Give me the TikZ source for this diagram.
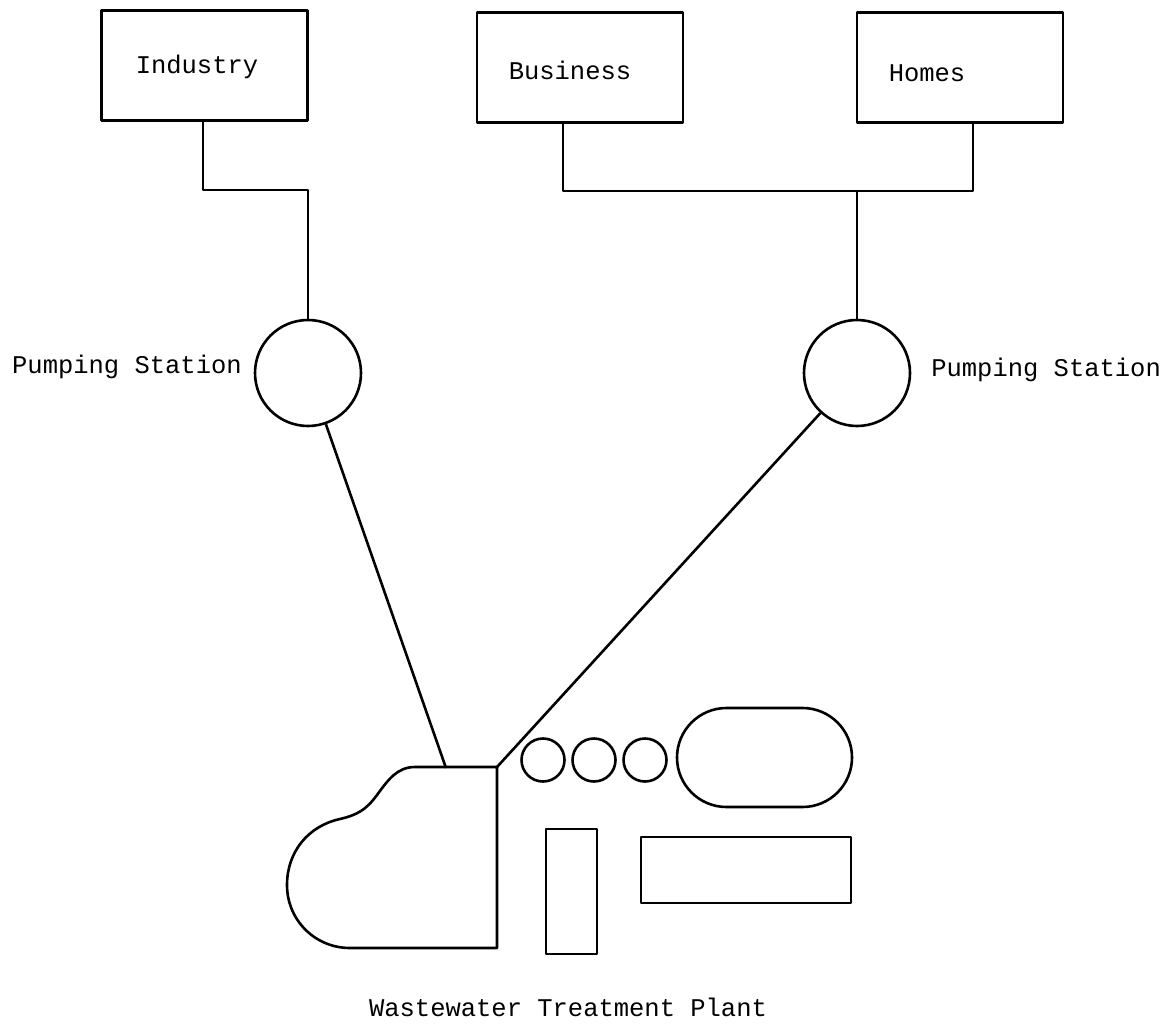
\documentclass[tikz,border=0pt]{standalone}
\usepackage{fontspec}
\setmainfont{Liberation Mono}
\usetikzlibrary{calc,shapes.misc}
\begin{document}
\begin{tikzpicture}[x=1pt,y=-1pt,
  line width=2.6pt, line join=round,
  srcbox/.style={draw, rectangle, minimum width=206pt, minimum height=110pt, inner sep=0pt},
  pump/.style={draw, circle, minimum size=106pt, inner sep=0pt},
  lbl/.style={font=\fontsize{25.5}{28}\selectfont, inner sep=0pt},
  tank/.style={draw, circle, minimum size=43pt, inner sep=0pt}]
\useasboundingbox (0,0) rectangle (1172,1024);
% source boxes
\node[srcbox] (ind) at (204.5,65.5) {};
\node[srcbox] (bus) at (580,67.5) {};
\node[srcbox] (hom) at (960,67.5) {};
\node[lbl] (indt) at (197,67) {Industry};
\node[lbl] (bust) at (570,70) {Business};
\node[lbl] (homt) at (927,73) {Homes};
% pumping stations
\node[pump] (ps1) at (308,373) {};
\node[pump] (ps2) at (857,373) {};
\node[lbl, anchor=east] (ps1t) at (243,367) {Pumping Station};
\node[lbl, anchor=west] (ps2t) at (930,370) {Pumping Station};
% connectors from sources
\coordinate (j1) at (203,190);
\coordinate (j2) at (857,191);
\draw ($(ind.south)+(-1.5,0)$) -- (j1) -| (ps1.north);
\draw ($(bus.south)+(-17,0)$) |- (j2) -| ($(hom.south)+(13,0)$);
\draw (ps2.north) -- (j2);
% plant
\coordinate (pin1) at (446,768);
\coordinate (pin2) at (497,767);
\draw (pin2) -- (415,767)
  .. controls (397,767) and (388,780) .. (377,795)
  .. controls (366,810) and (357,815) .. (340,819)
  .. controls (308,826) and (287,852) .. (287,885)
  .. controls (287,920) and (315,948) .. (350,948)
  -- (497,948) -- cycle;
\draw (ps1) -- (pin1);
\draw (ps2) -- (pin2);
% other units
\node[tank] (t1) at (543,760) {};
\node[tank] (t2) at (594,760) {};
\node[tank] (t3) at (645,760) {};
\node[draw, rounded rectangle, minimum width=175pt, minimum height=99pt, inner sep=0pt] (ov) at (764.5,757.5) {};
\draw (546,829) rectangle (597,954);
\draw (641,837) rectangle (851,903);
\node[lbl] (plt) at (568,1007) {Wastewater Treatment Plant};
\end{tikzpicture}
\end{document}
